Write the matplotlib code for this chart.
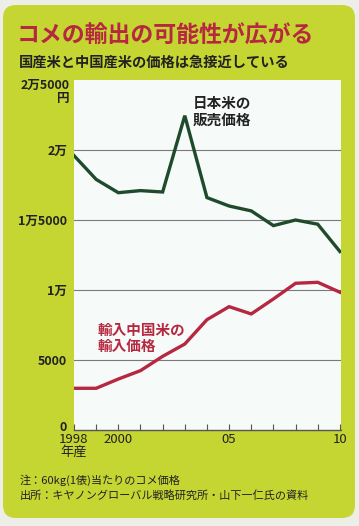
import matplotlib
matplotlib.use("Agg")
import matplotlib.pyplot as plt
from matplotlib.patches import FancyBboxPatch
import matplotlib.transforms as mtransforms

plt.rcParams['font.family'] = ['Noto Sans CJK JP', 'DejaVu Sans']

#data (yen per 60kg)
years = [1998, 1999, 2000, 2001, 2002, 2003, 2004, 2005, 2006, 2007, 2008, 2009, 2010]
japan_rice = [19600, 17900, 16950, 17100, 17000, 22450, 16600, 16000, 15650, 14600, 15000, 14700, 12750]
china_rice = [2980, 2980, 3640, 4240, 5260, 6140, 7880, 8810, 8290, 9360, 10480, 10550, 9840]

yticks = [0, 5000, 10000, 15000, 20000]
ytick_labels = ['0', '5000', '1万', '1万5000', '2万']
xticks = [1998, 2000, 2005, 2010]
xtick_labels = ['1998\n年産', '2000', '05', '10']

panel_color = '#c5d532'
green = '#1f4a2c'
red = '#b5283f'

fig = plt.figure(figsize=(3.59, 5.26), dpi=100, facecolor='#eeeee8')

#background panel in pixel coords
bg = fig.add_axes([0, 0, 1, 1], zorder=-1)
bg.set_xlim(0, 359)
bg.set_ylim(526, 0)
bg.axis('off')
bg.add_patch(FancyBboxPatch((3, 5), 352, 513, boxstyle="round,pad=0,rounding_size=13",
                            facecolor=panel_color, edgecolor='none'))

bg.text(17, 35, 'コメの輸出の可能性が広がる', fontsize=16.5, fontweight='bold',
        color=red, va='center', ha='left')
bg.text(19, 63, '国産米と中国産米の価格は急接近している', fontsize=10.3, fontweight='bold',
        color='#222222', va='center', ha='left')
bg.text(20, 480, '注：60kg(1俵)当たりのコメ価格', fontsize=8, color='#222222', va='center')
bg.text(20, 495, '出所：キヤノングローバル戦略研究所・山下一仁氏の資料', fontsize=8,
        color='#222222', va='center')

#main chart
ax = fig.add_axes([74/359, 96/526, 267/359, 350/526])
ax.set_facecolor('#f6faf9')
ax.plot(years, japan_rice, color=green, lw=2.4, solid_joinstyle='miter', zorder=3)
ax.plot(years, china_rice, color=red, lw=2.4, solid_joinstyle='miter', zorder=3)

ax.set_xlim(1998, 2010.05)
ax.set_ylim(0, 25000)

for v in yticks[1:]:
    ax.axhline(v, color='#7a7a7a', lw=0.8, zorder=1)

for s in ['top', 'right', 'left']:
    ax.spines[s].set_visible(False)
ax.spines['bottom'].set_color('#555555')
ax.spines['bottom'].set_linewidth(1)

ax.set_yticks(yticks)
ax.set_yticklabels(ytick_labels, fontsize=9, fontweight='bold', color='#222222')
ax.tick_params(axis='y', length=0, pad=5)
#lift the 0 label a little so it clears 1998
lbl0 = ax.get_yticklabels()[0]
lbl0.set_transform(lbl0.get_transform() + mtransforms.ScaledTranslation(0, 4/100, fig.dpi_scale_trans))

ax.set_xticks(xticks)
ax.set_xticklabels(xtick_labels, fontsize=9.5, color='#222222', linespacing=0.95)
ax.set_xticks(years, minor=True)
ax.tick_params(axis='x', which='both', direction='in', length=4, width=0.8,
               color='#555555', pad=2)

#top label with unit
trans = mtransforms.blended_transform_factory(ax.transAxes, ax.transData)
ax.text(-0.018, 25100, '2万5000\n円', transform=trans, ha='right', va='top',
        fontsize=9, fontweight='bold', color='#222222', linespacing=1.05,
        multialignment='right')

ax.text(2003.35, 23900, '日本米の\n販売価格', fontsize=10.5, fontweight='bold',
        color='#222222', va='top', ha='left', linespacing=1.0)
ax.text(1999.05, 7750, '輸入中国米の\n輸入価格', fontsize=10.5, fontweight='bold',
        color=red, va='top', ha='left', linespacing=1.0)

fig.savefig('out.png', dpi=100, facecolor=fig.get_facecolor())
